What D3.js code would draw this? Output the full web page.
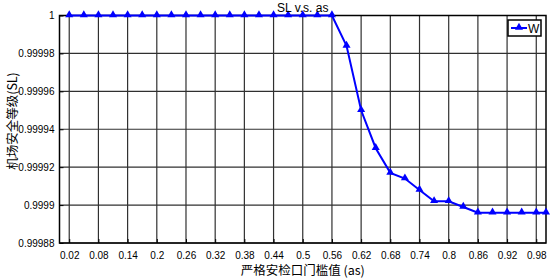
<!DOCTYPE html>
<html>
<head>
<meta charset="utf-8">
<script src="https://cdn.jsdelivr.net/npm/d3@7"></script>
<style>
  body { margin: 0; background: #fff; }
  svg { display: block; }
</style>
</head>
<body>
<div id="graph"></div>
<script>
let w = 552;
let h = 279;
let latin = "'Liberation Sans', Arial, sans-serif";
let cjk = "'Noto Sans CJK SC', sans-serif";

// data
let asValues = [0.02, 0.05, 0.08, 0.11, 0.14, 0.17, 0.20, 0.23, 0.26, 0.29, 0.32,
  0.35, 0.38, 0.41, 0.44, 0.47, 0.50, 0.53, 0.56, 0.59, 0.62, 0.65, 0.68, 0.71,
  0.74, 0.77, 0.80, 0.83, 0.86, 0.89, 0.92, 0.95, 0.98, 1.0];
let slValues = [1, 1, 1, 1, 1, 1, 1, 1, 1, 1, 1,
  1, 1, 1, 1, 1, 1, 1, 1, 0.999984, 0.99995, 0.99993, 0.999917, 0.999914,
  0.999908, 0.999902, 0.999902, 0.999899, 0.999896, 0.999896, 0.999896, 0.999896, 0.999896, 0.999896];
let xTicks = [0.02, 0.08, 0.14, 0.2, 0.26, 0.32, 0.38, 0.44, 0.5, 0.56, 0.62, 0.68, 0.74, 0.8, 0.86, 0.92, 0.98];
let yTicks = [0.99988, 0.9999, 0.99992, 0.99994, 0.99996, 0.99998, 1];
let seriesName = "W";

let padLeft = 59.5, padRight = 546, padTop = 15.5, padBottom = 243;

let xScale = d3.scaleLinear().domain([0, 1]).range([padLeft, padRight]);
let yScale = d3.scaleLinear().domain([0.99988, 1]).range([padBottom, padTop]);

let viz = d3.select("#graph").append("svg")
  .attr("width", w)
  .attr("height", h);

// grid
let grid = viz.append("g").attr("class", "grid");
grid.selectAll(".vgrid").data(xTicks).enter()
  .append("line")
  .attr("x1", d => xScale(d)).attr("x2", d => xScale(d))
  .attr("y1", padTop).attr("y2", padBottom)
  .attr("stroke", "#303030").attr("stroke-width", 1.2);
grid.selectAll(".hgrid").data(yTicks).enter()
  .append("line")
  .attr("x1", padLeft).attr("x2", padRight)
  .attr("y1", d => yScale(d)).attr("y2", d => yScale(d))
  .attr("stroke", "#303030").attr("stroke-width", 1.2);

// axes
let xAxis = d3.axisBottom(xScale).tickValues(xTicks).tickSize(-4).tickPadding(9)
  .tickFormat(d => d3.format("")(+d.toFixed(2)));
let xAxisGroup = viz.append("g").attr("class", "xaxis")
  .attr("transform", "translate(0," + padBottom + ")")
  .call(xAxis);
let yAxis = d3.axisLeft(yScale).tickValues(yTicks).tickSize(-4).tickPadding(5)
  .tickFormat(d => d3.format("")(+d.toFixed(5)));
let yAxisGroup = viz.append("g").attr("class", "yaxis")
  .attr("transform", "translate(" + padLeft + ",0)")
  .call(yAxis);

[xAxisGroup, yAxisGroup].forEach(g => {
  g.attr("font-family", latin).attr("font-size", 10);
  g.select(".domain").remove();
  g.selectAll("text").attr("fill", "#000");
  g.selectAll("line").attr("stroke", "#000");
});

// box
viz.append("rect")
  .attr("x", padLeft).attr("y", padTop)
  .attr("width", padRight - padLeft).attr("height", padBottom - padTop)
  .attr("fill", "none").attr("stroke", "#000").attr("stroke-width", 1.5);

// series
let points = asValues.map((a, i) => [a, slValues[i]]);
let line = d3.line().x(d => xScale(d[0])).y(d => yScale(d[1]));
viz.append("path")
  .datum(points)
  .attr("d", line)
  .attr("fill", "none")
  .attr("stroke", "#0000ff")
  .attr("stroke-width", 2);

let tri = d3.symbol().type(d3.symbolTriangle).size(28);
viz.selectAll(".marker").data(points).enter()
  .append("path")
  .attr("class", "marker")
  .attr("d", tri)
  .attr("transform", d => "translate(" + xScale(d[0]) + "," + (yScale(d[1]) - 0.5) + ")")
  .attr("fill", "#0000ff");

// title
viz.append("text")
  .attr("x", (padLeft + padRight) / 2).attr("y", 11.5)
  .attr("text-anchor", "middle")
  .attr("font-family", latin)
  .attr("font-size", 12)
  .text("SL v.s. as");

// axis labels
viz.append("text")
  .attr("x", (padLeft + padRight) / 2).attr("y", 275)
  .attr("text-anchor", "middle")
  .attr("font-size", 12.5)
  .attr("font-family", cjk)
  .text("严格安检口门槛值 (as)");

viz.append("text")
  .attr("transform", "translate(17,121) rotate(-90)")
  .attr("text-anchor", "middle")
  .attr("font-size", 12.5)
  .attr("font-family", cjk)
  .text("机场安全等级(SL)");

// legend
let legend = viz.append("g").attr("transform", "translate(508,20)");
legend.append("rect")
  .attr("width", 33).attr("height", 16)
  .attr("fill", "#fff").attr("stroke", "#000").attr("stroke-width", 1.5);
legend.append("line")
  .attr("x1", 3).attr("x2", 19).attr("y1", 8).attr("y2", 8)
  .attr("stroke", "#0000ff").attr("stroke-width", 2);
legend.append("path")
  .attr("d", tri)
  .attr("transform", "translate(11,7.5)")
  .attr("fill", "#0000ff");
legend.append("text")
  .attr("x", 20).attr("y", 12.5)
  .attr("font-family", latin)
  .attr("font-size", 12)
  .text(seriesName);
</script>
</body>
</html>
